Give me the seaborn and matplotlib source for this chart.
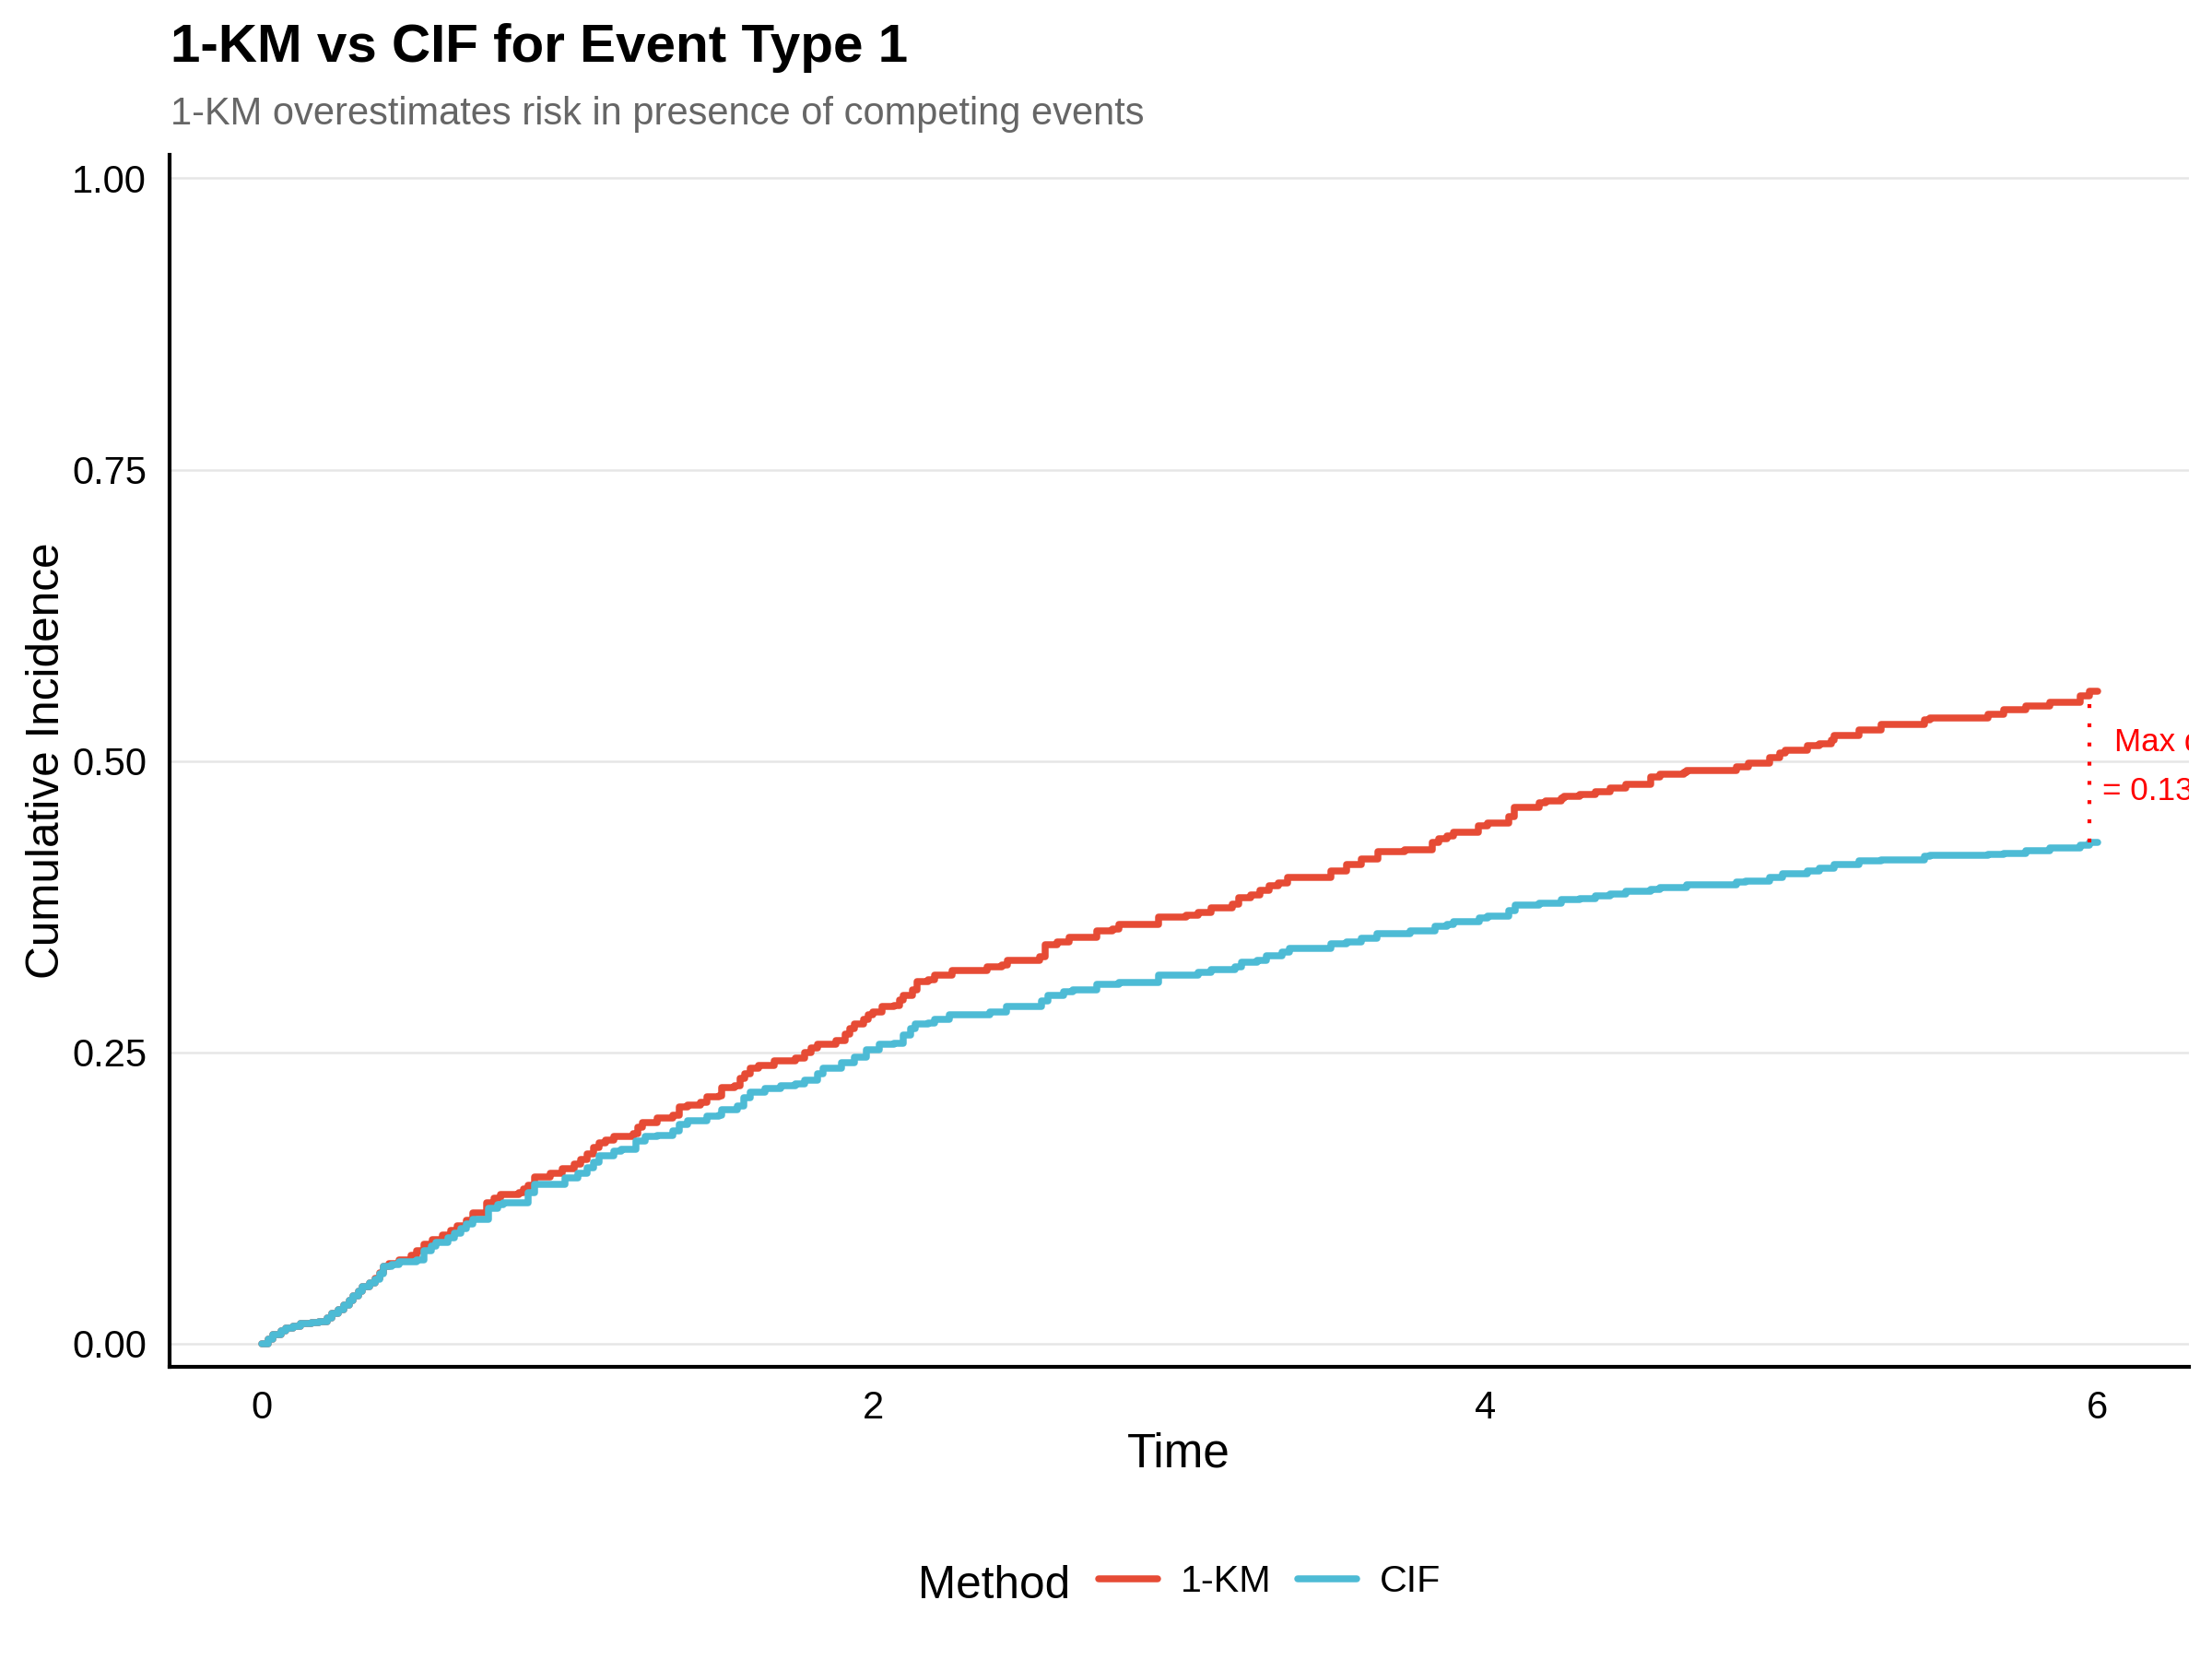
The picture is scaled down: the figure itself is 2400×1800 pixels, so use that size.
import numpy as np
import pandas as pd
import seaborn as sns
import matplotlib
matplotlib.use("Agg")
import matplotlib.pyplot as plt
from matplotlib.lines import Line2D

# step times / values (value after each jump)
km_time = [0.000, 0.023, 0.038, 0.064, 0.079, 0.104, 0.128, 0.165, 0.189, 0.215,
           0.229, 0.251, 0.269, 0.286, 0.299, 0.316, 0.329, 0.352, 0.370, 0.387,
           0.400, 0.417, 0.450, 0.490, 0.508, 0.530, 0.559, 0.591, 0.619, 0.641,
           0.670, 0.691, 0.737, 0.761, 0.781, 0.842, 0.857, 0.872, 0.892, 0.943,
           0.983, 1.023, 1.044, 1.063, 1.084, 1.103, 1.125, 1.153, 1.214, 1.231,
           1.244, 1.294, 1.344, 1.364, 1.394, 1.435, 1.455, 1.495, 1.505, 1.545,
           1.565, 1.579, 1.596, 1.625, 1.675, 1.746, 1.776, 1.797, 1.817, 1.876,
           1.907, 1.923, 1.937, 1.967, 1.984, 1.998, 2.027, 2.067, 2.085, 2.098,
           2.128, 2.143, 2.179, 2.199, 2.258, 2.370, 2.420, 2.439, 2.544, 2.560,
           2.600, 2.640, 2.730, 2.781, 2.801, 2.931, 3.022, 3.062, 3.102, 3.173,
           3.193, 3.234, 3.263, 3.293, 3.324, 3.354, 3.494, 3.545, 3.595, 3.649,
           3.735, 3.826, 3.846, 3.875, 3.895, 3.976, 4.007, 4.077, 4.093, 4.177,
           4.198, 4.248, 4.258, 4.308, 4.358, 4.409, 4.459, 4.539, 4.570, 4.649,
           4.659, 4.820, 4.860, 4.930, 4.961, 4.981, 5.051, 5.092, 5.131, 5.141,
           5.222, 5.292, 5.434, 5.454, 5.644, 5.694, 5.765, 5.845, 5.945, 5.975]
km_value = [0.000, 0.004, 0.008, 0.011, 0.013, 0.015, 0.017, 0.018, 0.019, 0.022,
            0.026, 0.029, 0.033, 0.037, 0.041, 0.045, 0.049, 0.052, 0.056, 0.061,
            0.066, 0.069, 0.072, 0.076, 0.080, 0.085, 0.089, 0.093, 0.097, 0.101,
            0.106, 0.112, 0.121, 0.125, 0.128, 0.130, 0.133, 0.136, 0.143, 0.146,
            0.150, 0.154, 0.158, 0.163, 0.168, 0.172, 0.175, 0.178, 0.180, 0.186,
            0.190, 0.194, 0.196, 0.203, 0.205, 0.207, 0.212, 0.213, 0.220, 0.221,
            0.228, 0.232, 0.236, 0.239, 0.243, 0.245, 0.250, 0.254, 0.257, 0.260,
            0.266, 0.270, 0.274, 0.278, 0.282, 0.285, 0.289, 0.290, 0.295, 0.299,
            0.304, 0.311, 0.312, 0.316, 0.320, 0.323, 0.325, 0.329, 0.332, 0.342,
            0.345, 0.349, 0.354, 0.356, 0.360, 0.366, 0.368, 0.370, 0.374, 0.377,
            0.383, 0.385, 0.389, 0.393, 0.395, 0.400, 0.406, 0.411, 0.416, 0.422,
            0.424, 0.430, 0.433, 0.436, 0.439, 0.444, 0.447, 0.452, 0.460, 0.464,
            0.466, 0.468, 0.470, 0.471, 0.474, 0.477, 0.480, 0.486, 0.489, 0.490,
            0.492, 0.495, 0.498, 0.503, 0.507, 0.509, 0.513, 0.515, 0.518, 0.522,
            0.527, 0.531, 0.535, 0.537, 0.540, 0.544, 0.547, 0.550, 0.556, 0.560]

cif_time = [0.000, 0.023, 0.038, 0.064, 0.079, 0.104, 0.128, 0.165, 0.189, 0.215,
            0.229, 0.251, 0.269, 0.286, 0.299, 0.316, 0.329, 0.352, 0.370, 0.387,
            0.400, 0.427, 0.450, 0.508, 0.530, 0.554, 0.571, 0.610, 0.630, 0.651,
            0.670, 0.691, 0.742, 0.771, 0.791, 0.872, 0.892, 0.992, 1.033, 1.063,
            1.084, 1.103, 1.153, 1.175, 1.224, 1.254, 1.294, 1.344, 1.364, 1.394,
            1.455, 1.495, 1.505, 1.555, 1.575, 1.596, 1.645, 1.696, 1.746, 1.776,
            1.817, 1.836, 1.897, 1.937, 1.978, 2.018, 2.067, 2.098, 2.120, 2.138,
            2.179, 2.199, 2.248, 2.380, 2.434, 2.549, 2.570, 2.620, 2.651, 2.730,
            2.801, 2.931, 3.062, 3.102, 3.183, 3.203, 3.253, 3.283, 3.334, 3.359,
            3.494, 3.545, 3.595, 3.645, 3.755, 3.836, 3.875, 3.895, 3.981, 4.007,
            4.077, 4.098, 4.177, 4.248, 4.308, 4.358, 4.409, 4.459, 4.539, 4.570,
            4.659, 4.820, 4.850, 4.930, 4.971, 5.051, 5.092, 5.141, 5.222, 5.292,
            5.434, 5.454, 5.644, 5.694, 5.765, 5.845, 5.945, 5.975]
cif_value = [0.000, 0.004, 0.008, 0.011, 0.013, 0.015, 0.017, 0.018, 0.019, 0.022,
             0.026, 0.029, 0.033, 0.037, 0.041, 0.045, 0.049, 0.052, 0.055, 0.060,
             0.066, 0.068, 0.070, 0.072, 0.080, 0.084, 0.087, 0.091, 0.095, 0.099,
             0.103, 0.107, 0.116, 0.119, 0.121, 0.130, 0.137, 0.142, 0.146, 0.151,
             0.156, 0.161, 0.165, 0.167, 0.174, 0.178, 0.179, 0.183, 0.188, 0.191,
             0.195, 0.196, 0.201, 0.204, 0.211, 0.216, 0.219, 0.221, 0.223, 0.226,
             0.232, 0.236, 0.241, 0.246, 0.252, 0.257, 0.258, 0.265, 0.270, 0.274,
             0.275, 0.278, 0.282, 0.285, 0.289, 0.294, 0.299, 0.302, 0.304, 0.308,
             0.310, 0.316, 0.319, 0.321, 0.323, 0.327, 0.329, 0.333, 0.336, 0.339,
             0.343, 0.345, 0.348, 0.352, 0.354, 0.358, 0.360, 0.362, 0.365, 0.367,
             0.372, 0.376, 0.378, 0.381, 0.382, 0.384, 0.386, 0.388, 0.390, 0.391,
             0.394, 0.396, 0.397, 0.400, 0.403, 0.406, 0.408, 0.411, 0.414, 0.415,
             0.418, 0.419, 0.420, 0.421, 0.423, 0.425, 0.428, 0.430]

end_time = 6.0  # last follow-up time, both curves stop here

methods = ["1-KM", "CIF"]
method_colors = ["#E64B35", "#4DBBD5"]
x_ticks = [0, 2, 4, 6]
y_ticks = [0.00, 0.25, 0.50, 0.75, 1.00]


def step_at(times, values, t):
    idx = np.searchsorted(times, t, side="right") - 1
    return np.asarray(values)[idx]


# long table for seaborn
df = pd.concat([
    pd.DataFrame({"Time": km_time + [end_time], "Incidence": km_value + [km_value[-1]], "Method": "1-KM"}),
    pd.DataFrame({"Time": cif_time + [end_time], "Incidence": cif_value + [cif_value[-1]], "Method": "CIF"}),
], ignore_index=True)

# where does 1-KM exceed CIF the most
grid_t = np.union1d(km_time, cif_time)
diff = step_at(km_time, km_value, grid_t) - step_at(cif_time, cif_value, grid_t)
t_max = grid_t[np.argmax(diff)]
km_at = float(step_at(km_time, km_value, t_max))
cif_at = float(step_at(cif_time, cif_value, t_max))
max_diff = km_at - cif_at

sns.set_style("white")
plt.rcParams["font.family"] = ["Liberation Sans", "DejaVu Sans"]
plt.rcParams["text.color"] = "black"

fig = plt.figure(figsize=(8, 6), dpi=300)
ax = fig.add_axes([0.0767, 0.176, 0.913, 0.7306])

palette = dict(zip(methods, method_colors))
sns.lineplot(data=df, x="Time", y="Incidence", hue="Method", hue_order=methods,
             palette=palette, estimator=None, drawstyle="steps-post",
             linewidth=1.8, legend=False, ax=ax)

# max difference marker (text clipped by the panel, as in the original)
ax.plot([t_max, t_max], [cif_at, km_at], color="red", linestyle=(0, (1, 4)), linewidth=1.0)
mid = (cif_at + km_at) / 2
t1 = ax.text(t_max + 0.080, mid + 0.021, "Max diff", color="red", fontsize=8.4, va="center", ha="left")
t2 = ax.text(t_max + 0.041, mid - 0.021, f"= {max_diff:.2f}", color="red", fontsize=8.4, va="center", ha="left")
for t in (t1, t2):
    t.set_clip_on(True)

ax.set_xlim(-0.3, 6.3)
ax.set_ylim(-0.02, 1.02)
ax.set_xticks(x_ticks)
ax.set_yticks(y_ticks)
ax.set_yticklabels([f"{v:.2f}" for v in y_ticks])
ax.set_xlabel("")
ax.set_ylabel("")

ax.yaxis.grid(True, color="#E6E6E6", linewidth=0.6)
ax.xaxis.grid(False)
ax.set_axisbelow(True)
for side in ["top", "right"]:
    ax.spines[side].set_visible(False)
for side in ["left", "bottom"]:
    ax.spines[side].set_color("black")
    ax.spines[side].set_linewidth(1.0)
ax.tick_params(axis="both", direction="out", length=2.5, width=0.6, color="black",
               labelsize=10, labelcolor="black", pad=3.5)

# titles and axis labels
fig.text(0.077, 0.9628, "1-KM vs CIF for Event Type 1", fontsize=14, fontweight="bold",
         ha="left", va="baseline")
fig.text(0.077, 0.925, "1-KM overestimates risk in presence of competing events", fontsize=10,
         color="#666666", ha="left", va="baseline")
fig.text(0.533, 0.1156, "Time", fontsize=12.3, ha="center", va="baseline")
fig.text(0.0212, 0.5417, "Cumulative Incidence", fontsize=11.9, rotation=90, ha="center", va="center")

# legend at the bottom, title on the left
fig.text(0.415, 0.0367, "Method", fontsize=11.9, ha="left", va="baseline")
handles = [Line2D([0], [0], color=c, linewidth=1.8) for c in method_colors]
fig.legend(handles, methods, loc="center left", bbox_to_anchor=(1192 / 2400, 1 - 1716 / 1800),
           ncol=2, frameon=False, fontsize=9.9, handlelength=1.55, handletextpad=0.6,
           columnspacing=0.7, borderpad=0, borderaxespad=0)

fig.savefig("out.png", dpi=300)
